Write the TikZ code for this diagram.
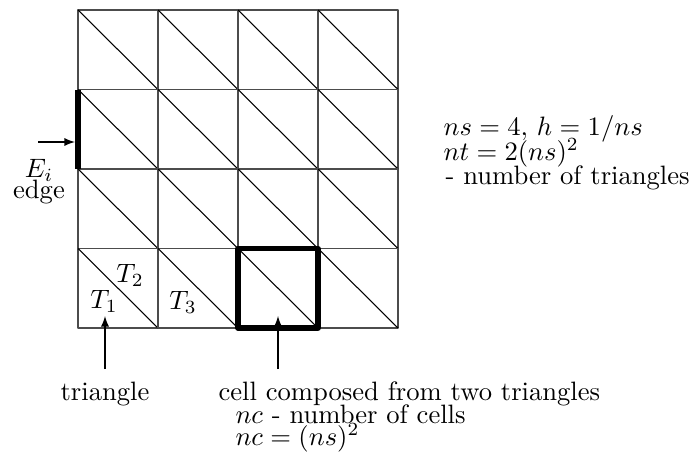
\documentclass[tikz,border=0pt]{standalone}
\begin{document}
\begin{tikzpicture}[x=0.376pt, y=-0.376pt, line join=round, >=latex,
	thin grid/.style={line width=0.4pt, black!70},
	thick edge/.style={line width=1.9pt}]
	\useasboundingbox (0,0) rectangle (692,463);
	% grid of cells, each cut by its diagonal
	\foreach \i in {0,...,3}{
		\foreach \j in {0,...,3}{
			\draw[thin grid] (78+80*\i,10+79.5*\j) rectangle (158+80*\i,89.5+79.5*\j);
			\draw[line width=0.4pt] (78+80*\i,10+79.5*\j) -- (158+80*\i,89.5+79.5*\j);
		}
	}
	% edge
	\coordinate (etop) at (78,89.5);
	\coordinate (ebot) at (78,169);
	\draw[thick edge] (etop) -- (ebot);
	\coordinate (etail) at (38,142);
	\coordinate (ehead) at (75,142);
	\draw[->] (etail) -- (ehead);
	\node (Ei) at (39,170) {$E_i$};
	\node[anchor=base] (edge) at (39,198) {edge};
	% triangles
	\node (T1) at (104,301) {$T_1$};
	\node (T2) at (130,275) {$T_2$};
	\node (T3) at (183,302) {$T_3$};
	% cell
	\draw[thick edge] (238,248.5) rectangle (318,328);
	\node[anchor=base] (tri) at (105,400) {triangle};
	\node[anchor=base west, inner sep=0pt] (cell) at (218,400) {cell composed from two triangles};
	\node[anchor=base west, inner sep=0pt] (nc) at (235,423) {$nc$ - number of cells};
	\node[anchor=base west, inner sep=0pt] (ncf) at (235,445) {$nc=(ns)^2$};
	\coordinate (tritail) at (105,369);
	\coordinate (tritip) at (105,316);
	\coordinate (celltail) at (278,369);
	\coordinate (celltip) at (278,316);
	\draw[->] (tritail) -- (tritip);
	\draw[->] (celltail) -- (celltip);
	% numbers
	\node[anchor=base west, inner sep=0pt] (ns) at (443,135) {$ns=4,\,h=1/ns$};
	\node[anchor=base west, inner sep=0pt] (nt) at (443,160) {$nt=2(ns)^2$};
	\node[anchor=base west, inner sep=0pt] (ntri) at (445,184) {- number of triangles};
\end{tikzpicture}
\end{document}
